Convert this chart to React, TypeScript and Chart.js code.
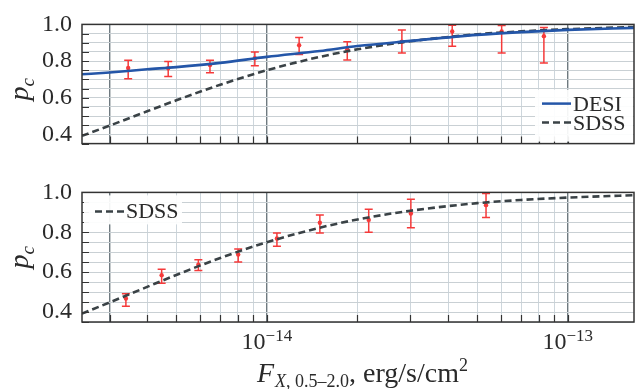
import React, { useEffect, useRef } from 'react';
import { Chart, registerables } from 'chart.js';

Chart.register(...registerables);

// ---- data ----
const curveFlux = [2.43e-15, 3e-15, 4e-15, 5e-15, 7e-15, 1e-14, 1.5e-14, 2e-14, 3e-14, 5e-14, 7e-14, 1e-13, 1.66e-13];
const sdssCurve = [0.392, 0.448, 0.526, 0.586, 0.671, 0.75, 0.823, 0.864, 0.908, 0.946, 0.962, 0.974, 0.986];
const desiCurve = [0.728, 0.738, 0.755, 0.767, 0.79, 0.823, 0.855, 0.882, 0.91, 0.943, 0.958, 0.97, 0.981];

const topFlux = [3.46e-15, 4.7e-15, 6.47e-15, 9.12e-15, 1.28e-14, 1.85e-14, 2.81e-14, 4.13e-14, 6.03e-14, 8.33e-14];
const topP = [0.762, 0.761, 0.778, 0.816, 0.886, 0.863, 0.906, 0.961, 0.961, 0.936];
const topLo = [0.703, 0.716, 0.737, 0.774, 0.836, 0.806, 0.844, 0.881, 0.844, 0.79];
const topHi = [0.805, 0.798, 0.805, 0.85, 0.928, 0.905, 0.97, 0.995, 0.994, 0.983];

const botFlux = [3.4e-15, 4.47e-15, 5.92e-15, 8.03e-15, 1.08e-14, 1.5e-14, 2.18e-14, 3.01e-14, 5.35e-14];
const botP = [0.468, 0.585, 0.637, 0.688, 0.769, 0.848, 0.862, 0.894, 0.936];
const botLo = [0.429, 0.544, 0.608, 0.651, 0.73, 0.797, 0.8, 0.823, 0.874];
const botHi = [0.492, 0.615, 0.662, 0.716, 0.797, 0.887, 0.916, 0.966, 0.994];

const xGridTicks = [3e-15, 4e-15, 5e-15, 6e-15, 7e-15, 8e-15, 9e-15, 1e-14, 2e-14, 3e-14, 4e-14, 5e-14, 6e-14, 7e-14, 8e-14, 9e-14, 1e-13];
const xMajorGrid = [3e-15, 1e-14, 1e-13];
const xLabelTicks = [1e-14, 1e-13];
const xLabelExps = ['\u221214', '\u221213'];
const yGridTicks = [0.35, 0.4, 0.45, 0.5, 0.55, 0.6, 0.65, 0.7, 0.75, 0.8, 0.85, 0.9, 0.95, 1.0];
const yLabelTicks = [0.4, 0.6, 0.8, 1.0];

const X_MIN = 2.43e-15;
const X_MAX = 1.66e-13;
const Y_MIN = 0.35;
const Y_MAX = 1.0;

const SERIF = "'Liberation Serif', 'Times New Roman', Times, serif";
const BLUE = '#2456a8';
const DASH = '#3a4246';
const RED = '#f53a3a';
const TEXT = '#2a2a2a';

const isMajorX = (v: number) => xMajorGrid.some((m) => Math.abs(Math.log10(v) - Math.log10(m)) < 1e-6);

function decorPlugin(opts: any) {
  return {
    id: 'decor',
    beforeDatasetsDraw(chart: any) {
      const { ctx, scales } = chart;
      const xs = scales.x;
      const ys = scales.y;
      ctx.save();
      ctx.strokeStyle = RED;
      ctx.lineWidth = 1.5;
      opts.flux.forEach((f: number, i: number) => {
        const x = xs.getPixelForValue(f);
        const yl = ys.getPixelForValue(opts.lo[i]);
        const yh = ys.getPixelForValue(opts.hi[i]);
        ctx.beginPath();
        ctx.moveTo(x, yl);
        ctx.lineTo(x, yh);
        ctx.moveTo(x - 4, yl);
        ctx.lineTo(x + 4, yl);
        ctx.moveTo(x - 4, yh);
        ctx.lineTo(x + 4, yh);
        ctx.stroke();
      });
      ctx.restore();
    },
    afterDatasetsDraw(chart: any) {
      const { ctx, scales, chartArea: a } = chart;
      const xs = scales.x;
      const ys = scales.y;
      ctx.save();
      // inner ticks
      ctx.strokeStyle = '#333';
      ctx.lineWidth = 1.2;
      ctx.beginPath();
      xGridTicks.forEach((v) => {
        const x = Math.round(xs.getPixelForValue(v)) + 0.5;
        ctx.moveTo(x, a.bottom);
        ctx.lineTo(x, a.bottom - 7);
      });
      yGridTicks.forEach((v) => {
        const y = Math.round(ys.getPixelForValue(v)) + 0.5;
        ctx.moveTo(a.left, y);
        ctx.lineTo(a.left + 7, y);
      });
      ctx.stroke();

      // legend
      const L = opts.legend;
      ctx.fillStyle = 'rgba(255,255,255,0.92)';
      const bx = L.right ? a.right - L.w - 1 : a.left + 2;
      const by = L.bottom ? a.bottom - L.h - 2 : a.top + 3;
      ctx.fillRect(bx, by, L.w, L.h);
      L.items.forEach((it: any, i: number) => {
        const ly = by + L.firstY + i * L.step;
        const lx = bx + L.padL;
        ctx.strokeStyle = it.color;
        ctx.lineWidth = 2.5;
        ctx.setLineDash(it.dash ? [7, 4] : []);
        ctx.beginPath();
        ctx.moveTo(lx, ly);
        ctx.lineTo(lx + 29, ly);
        ctx.stroke();
        ctx.setLineDash([]);
        ctx.fillStyle = TEXT;
        ctx.font = '22px ' + SERIF;
        ctx.textAlign = 'left';
        ctx.textBaseline = 'alphabetic';
        ctx.fillText(it.label, lx + 31, ly + 7);
      });

      // frame
      ctx.strokeStyle = '#333';
      ctx.lineWidth = 1.5;
      ctx.strokeRect(a.left, a.top, a.right - a.left, a.bottom - a.top);

      // y title p_c
      ctx.save();
      ctx.translate(28, a.top + 76);
      ctx.rotate(-Math.PI / 2);
      ctx.fillStyle = TEXT;
      ctx.textAlign = 'left';
      ctx.textBaseline = 'alphabetic';
      ctx.font = 'italic 28px ' + SERIF;
      ctx.fillText('p', 0, 0);
      const pw = ctx.measureText('p').width;
      ctx.font = 'italic 19px ' + SERIF;
      ctx.fillText('c', pw, 6);
      ctx.restore();

      if (opts.xLabels) {
        ctx.fillStyle = TEXT;
        ctx.textAlign = 'left';
        ctx.textBaseline = 'alphabetic';
        xLabelTicks.forEach((v, i) => {
          const cx = xs.getPixelForValue(v);
          ctx.font = '24px ' + SERIF;
          const w1 = ctx.measureText('10').width;
          ctx.font = '17px ' + SERIF;
          const w2 = ctx.measureText(xLabelExps[i]).width;
          const sx = cx - (w1 + w2) / 2;
          ctx.font = '24px ' + SERIF;
          ctx.fillText('10', sx, a.bottom + 27);
          ctx.font = '17px ' + SERIF;
          ctx.fillText(xLabelExps[i], sx + w1, a.bottom + 19);
        });
        // x title
        const base = a.bottom + 60;
        const parts = [
          { t: 'F', f: 'italic 28px ', dy: 0 },
          { t: 'X', f: 'italic 18px ', dy: 5 },
          { t: ', 0.5\u20132.0', f: '18px ', dy: 5 },
          { t: ', erg/s/cm', f: '28px ', dy: 0 },
          { t: '2', f: '18px ', dy: -11 },
        ];
        let total = 0;
        const widths = parts.map((p) => {
          ctx.font = p.f + SERIF;
          const w = ctx.measureText(p.t).width;
          total += w;
          return w;
        });
        let x = (a.left + a.right) / 2 + 4 - total / 2;
        parts.forEach((p, i) => {
          ctx.font = p.f + SERIF;
          ctx.fillText(p.t, x, base + p.dy);
          x += widths[i] + (i === 0 ? 1 : 0);
        });
      }
      ctx.restore();
    },
  };
}

function makeConfig(panel: 'top' | 'bottom'): any {
  const isTop = panel === 'top';
  const flux = isTop ? topFlux : botFlux;
  const p = isTop ? topP : botP;
  const datasets: any[] = [];
  if (isTop) {
    datasets.push({
      label: 'DESI',
      type: 'line',
      data: curveFlux.map((f, i) => ({ x: f, y: desiCurve[i] })),
      borderColor: BLUE,
      borderWidth: 2.6,
      pointRadius: 0,
      cubicInterpolationMode: 'monotone',
      order: 1,
    });
  }
  datasets.push({
    label: 'SDSS',
    type: 'line',
    data: curveFlux.map((f, i) => ({ x: f, y: sdssCurve[i] })),
    borderColor: DASH,
    borderWidth: 2.6,
    borderDash: [7, 4],
    pointRadius: 0,
    cubicInterpolationMode: 'monotone',
    order: 1,
  });
  datasets.push({
    label: 'points',
    type: 'scatter',
    data: flux.map((f, i) => ({ x: f, y: p[i] })),
    backgroundColor: RED,
    borderColor: RED,
    pointRadius: 2.2,
    borderWidth: 0,
    order: 3,
  });

  const legend = isTop
    ? {
        right: true,
        bottom: true,
        w: 98,
        h: 52,
        padL: 7,
        firstY: 14,
        step: 19,
        items: [
          { label: 'DESI', color: BLUE, dash: false },
          { label: 'SDSS', color: DASH, dash: true },
        ],
      }
    : {
        right: false,
        bottom: false,
        w: 98,
        h: 29,
        padL: 11,
        firstY: 16,
        step: 19,
        items: [{ label: 'SDSS', color: DASH, dash: true }],
      };

  return {
    type: 'scatter',
    data: { datasets },
    options: {
      animation: false,
      responsive: false,
      devicePixelRatio: 1,
      layout: { padding: { left: 0, right: 5, top: 15, bottom: isTop ? 14 : 67 } },
      plugins: { legend: { display: false }, tooltip: { enabled: false } },
      scales: {
        x: {
          type: 'logarithmic',
          min: X_MIN,
          max: X_MAX,
          afterBuildTicks: (s: any) => {
            s.ticks = xGridTicks.map((v) => ({ value: v }));
          },
          afterFit: (s: any) => {
            s.height = 0;
          },
          ticks: { display: false },
          border: { display: false },
          grid: {
            drawTicks: false,
            color: (c: any) => (c.tick && isMajorX(c.tick.value) ? '#6f7a80' : '#cdd6dc'),
            lineWidth: (c: any) => (c.tick && isMajorX(c.tick.value) ? 1.4 : 1),
          },
        },
        y: {
          type: 'linear',
          min: Y_MIN,
          max: Y_MAX,
          afterBuildTicks: (s: any) => {
            s.ticks = yGridTicks.map((v) => ({ value: v }));
          },
          afterFit: (s: any) => {
            s.width = 82;
          },
          border: { display: false },
          grid: { drawTicks: false, color: '#c9d0d4', lineWidth: 1 },
          ticks: {
            autoSkip: false,
            padding: 10,
            color: TEXT,
            font: { family: SERIF, size: 24 },
            callback: (v: number) => (yLabelTicks.some((t) => Math.abs(t - v) < 1e-9) ? v.toFixed(1) : ''),
          },
        },
      },
    },
    plugins: [
      decorPlugin({
        flux,
        lo: isTop ? topLo : botLo,
        hi: isTop ? topHi : botHi,
        legend,
        xLabels: !isTop,
      }),
    ],
  };
}

export default function App() {
  const topRef = useRef<HTMLCanvasElement>(null);
  const botRef = useRef<HTMLCanvasElement>(null);
  useEffect(() => {
    const c1 = new Chart(topRef.current as HTMLCanvasElement, makeConfig('top'));
    const c2 = new Chart(botRef.current as HTMLCanvasElement, makeConfig('bottom'));
    return () => {
      c1.destroy();
      c2.destroy();
    };
  }, []);
  return (
    <div style={{ position: 'absolute', left: 0, top: 0, width: 639, height: 389, background: '#fff' }}>
      <canvas ref={topRef} width={639} height={168} style={{ position: 'absolute', left: 0, top: 0, width: 639, height: 168 }} />
      <canvas ref={botRef} width={639} height={221} style={{ position: 'absolute', left: 0, top: 168, width: 639, height: 221 }} />
    </div>
  );
}
